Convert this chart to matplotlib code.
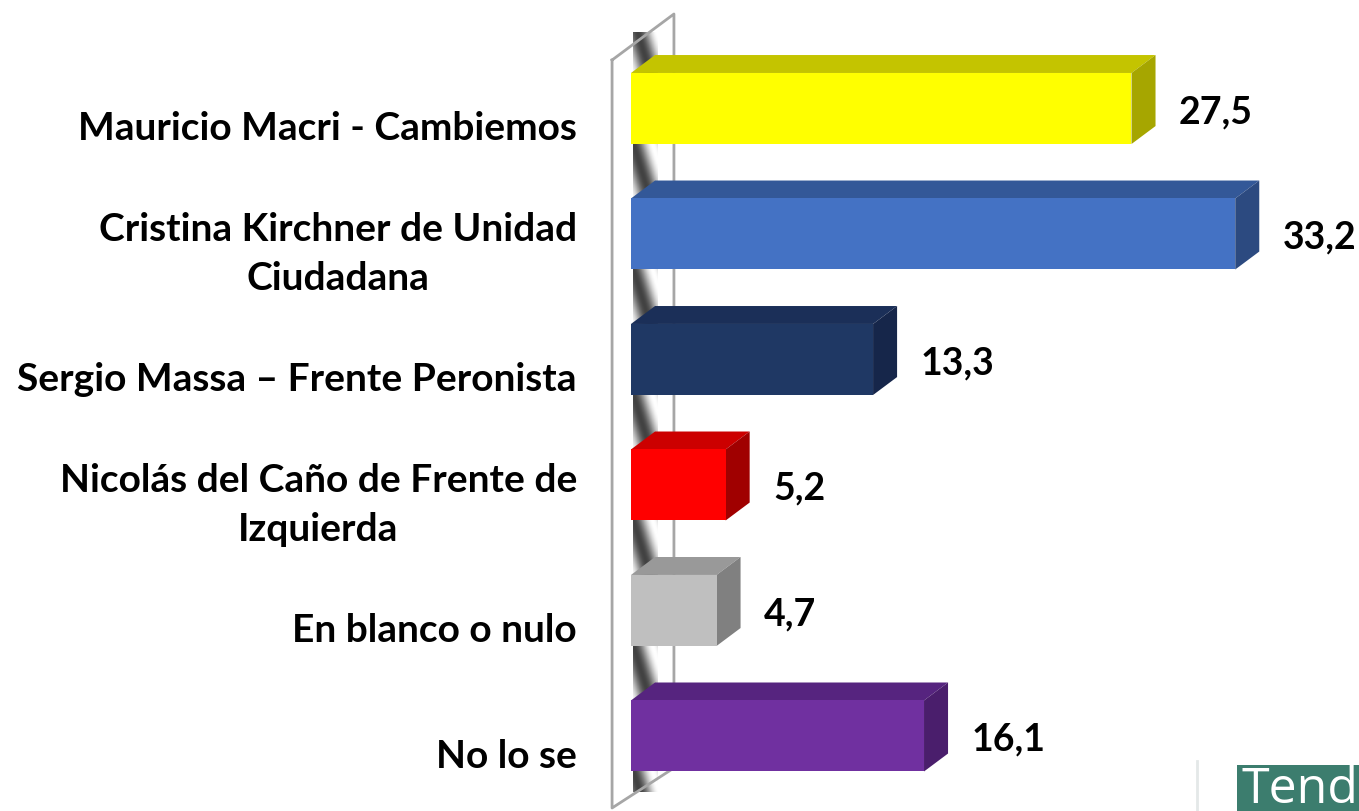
import numpy as np
import matplotlib.pyplot as plt
from matplotlib.patches import Polygon, Rectangle
from matplotlib.lines import Line2D

plt.rcParams['font.family'] = ['Lato', 'DejaVu Sans']

categories = ['Mauricio Macri - Cambiemos',
              'Cristina Kirchner de Unidad\nCiudadana',
              'Sergio Massa – Frente Peronista',
              'Nicolás del Caño de Frente de\nIzquierda',
              'En blanco o nulo',
              'No lo se']
values = [27.5, 33.2, 13.3, 5.2, 4.7, 16.1]

front = ['#FFFF00', '#4472C4', '#1F3864', '#FF0000', '#BFBFBF', '#7030A0']
top = ['#C4C400', '#335898', '#1B2F58', '#CC0000', '#999999', '#56247F']
side = ['#A6A600', '#2C4A80', '#16264A', '#A00000', '#808080', '#4A1E6C']

fig = plt.figure(figsize=(13.59, 8.11), dpi=100)
ax = fig.add_axes([0, 0, 1, 1])
ax.axis('off')

h = 0.566     # bar thickness (category units)
dx = 1.32     # 3d depth along x
dy = 0.143    # 3d depth along y

# the wall on the left
wx0, wx1 = -1.04, 2.36
wall = [[wx0, -0.386], [wx1, -0.753], [wx1, 5.255], [wx0, 5.574], [wx0, -0.386]]
ax.add_line(Line2D([p[0] for p in wall], [p[1] for p in wall],
                   color='#A6A6A6', lw=2, zorder=1))

# shaded strip of the wall, seen between the bars
sx0, sx1, sy0, sy1 = 0.1, 1.43, -0.6, 5.45
xs = np.linspace(sx0, sx1, 40)
ys = np.linspace(sy0, sy1, 800)
xx, yy = np.meshgrid(xs, ys)
phase = (xx - sx0) / 2.1 - (yy - h / 2) + 0.5
shade = 0.63 + 0.37 * np.cos(2 * np.pi * phase)
ax.imshow(shade, cmap='gray', vmin=0, vmax=1, extent=(sx0, sx1, sy1, sy0),
          origin='upper', aspect='auto', interpolation='bilinear', zorder=0.5)

ypos = np.arange(len(values))
ax.barh(ypos, values, height=h, color=front, zorder=3)

for i, v in enumerate(values):
    yt = i - h / 2
    yb = i + h / 2
    ax.add_patch(Polygon([[0, yt], [v, yt], [v + dx, yt - dy], [dx, yt - dy]],
                         closed=True, facecolor=top[i], edgecolor='none', zorder=2))
    ax.add_patch(Polygon([[v, yt], [v + dx, yt - dy], [v + dx, yb - dy], [v, yb]],
                         closed=True, facecolor=side[i], edgecolor='none', zorder=2))
    ax.text(v + 2.6, i + 0.03, ('%.1f' % v).replace('.', ','),
            ha='left', va='center', fontsize=27, fontweight='bold', color='black')
    ax.text(-2.97, i + 0.16, categories[i], ha='right', va='center',
            multialignment='center', fontsize=28, fontweight='bold',
            linespacing=1.5, color='black')

ax.set_xlim(-34.67, 40.0)
ax.set_ylim(5.598, -0.8645)

# logo in the corner
fig.add_artist(Line2D([1197 / 1359, 1197 / 1359], [0, 50 / 811],
                      color='#E4E8E8', lw=2))
fig.add_artist(Rectangle((1237 / 1359, 0), 122 / 1359, 46 / 811,
                         facecolor='#3C7D6E', edgecolor='none'))
fig.text(1242 / 1359, -4 / 811, 'Tend', color='white', fontsize=36,
         family='Open Sans', ha='left', va='bottom')

plt.savefig('out.png', dpi=100)
